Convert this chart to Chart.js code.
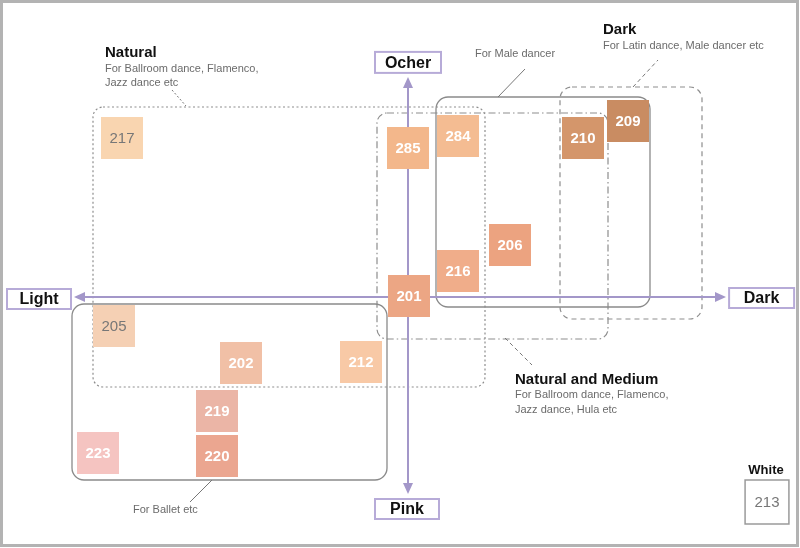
<!DOCTYPE html>
<html><head><meta charset="utf-8">
<script src="https://cdn.jsdelivr.net/npm/chart.js@4.4.1/dist/chart.umd.min.js"></script>
<style>html,body{margin:0;padding:0;background:#fff}#wrap{width:800px;height:548px}</style>
</head><body><div id="wrap"><canvas id="c" width="800" height="548"></canvas></div>
<script>
// ---- data ----
const shades = ['217','285','284','210','209','206','216','201','205','202','212','219','220','223'];
// horizontal: Light (-) ... Dark (+)
const tone = [-14.3, 0, 2.5, 8.75, 11.0, 5.1, 2.5, 0.05, -14.7, -8.35, -2.35, -9.55, -9.55, -15.5];
// vertical: Pink (-) ... Ocher (+)
const hue  = [7.95, 7.45, 8.05, 7.95, 8.8, 2.6, 1.3, 0.05, -1.45, -3.3, -3.25, -5.7, -7.95, -7.8];
const whiteShade = ['213'];
const whiteTone = [17.95];
const whiteHue = [-10.25];
const axisLabels = ['Light', 'Dark', 'Ocher', 'Pink'];

// ---- styles ----
const fills = ['#f9d5b0','#f3b78b','#f4bc92','#d4966b','#c98c62','#eca380','#f0ad8a','#eca684',
               '#f5d0b4','#f1c0a6','#f8c9a6','#ebb5a6','#eba690','#f5c4c1'];
const inks  = ['#777','#fff','#fff','#fff','#fff','#fff','#fff','#fff',
               '#777','#fff','#fff','#fff','#fff','#fff'];

// group regions (in map units)
const groups = [
  {x0:-15.75, x1:3.85, y0:-4.5, y1:9.5, dash:[2,2.5], w:1.2, c:'#8d8d8d', r:10},
  {x0:-1.55, x1:10.0, y0:-2.1, y1:9.2, dash:[7,3,1.5,3], w:1.2, c:'#8d8d8d', r:10},
  {x0:1.4, x1:12.1, y0:-0.5, y1:10.0, dash:[], w:1.3, c:'#8a8a8a', r:12},
  {x0:7.6, x1:14.7, y0:-1.1, y1:10.5, dash:[5,4], w:1.2, c:'#8d8d8d', r:12},
  {x0:-16.8, x1:-1.05, y0:-9.15, y1:-0.35, dash:[], w:1.3, c:'#8a8a8a', r:12}
];
const leaders = [
  {a:[-11.8,10.35], b:[-11.1,9.55], dash:[2,2]},
  {a:[4.85,-2.05], b:[6.2,-3.4], dash:[4,3]},
  {a:[4.5,10.0], b:[5.85,11.4], dash:[]},
  {a:[11.25,10.5], b:[12.5,11.85], dash:[4,3]},
  {a:[-9.8,-9.15], b:[-10.9,-10.25], dash:[]}
];
const notes = [
  {t:'Natural', x:-15.15, y:12.2, f:'bold 15px "Liberation Sans", Arial', c:'#111', al:'left'},
  {t:'For Ballroom dance, Flamenco,', x:-15.15, y:11.4, f:'11px "Liberation Sans", Arial', c:'#6b6b6b', al:'left'},
  {t:'Jazz dance etc', x:-15.15, y:10.7, f:'11px "Liberation Sans", Arial', c:'#6b6b6b', al:'left'},
  {t:'For Male dancer', x:3.35, y:12.15, f:'11px "Liberation Sans", Arial', c:'#6b6b6b', al:'left'},
  {t:'Dark', x:9.75, y:13.35, f:'bold 15px "Liberation Sans", Arial', c:'#111', al:'left'},
  {t:'For Latin dance, Male dancer etc', x:9.75, y:12.55, f:'11px "Liberation Sans", Arial', c:'#6b6b6b', al:'left'},
  {t:'Natural and Medium', x:5.35, y:-4.15, f:'bold 15px "Liberation Sans", Arial', c:'#111', al:'left'},
  {t:'For Ballroom dance, Flamenco,', x:5.35, y:-4.9, f:'11px "Liberation Sans", Arial', c:'#6b6b6b', al:'left'},
  {t:'Jazz dance, Hula etc', x:5.35, y:-5.65, f:'11px "Liberation Sans", Arial', c:'#6b6b6b', al:'left'},
  {t:'For Ballet etc', x:-13.75, y:-10.65, f:'11px "Liberation Sans", Arial', c:'#6b6b6b', al:'left'},
  {t:'White', x:17.9, y:-8.65, f:'bold 13px "Liberation Sans", Arial', c:'#111', al:'center'}
];
// axis label boxes centres
const axisBoxes = [
  {x:-18.45, y:-0.1, w:64, h:20},
  {x:17.68, y:-0.05, w:65, h:20},
  {x:0, y:11.73, w:66, h:21},
  {x:-0.05, y:-10.6, w:64, h:20}
];

function rr(ctx, x, y, w, h, r){
  ctx.beginPath();
  ctx.moveTo(x+r, y);
  ctx.lineTo(x+w-r, y); ctx.arcTo(x+w, y, x+w, y+r, r);
  ctx.lineTo(x+w, y+h-r); ctx.arcTo(x+w, y+h, x+w-r, y+h, r);
  ctx.lineTo(x+r, y+h); ctx.arcTo(x, y+h, x, y+h-r, r);
  ctx.lineTo(x, y+r); ctx.arcTo(x, y, x+r, y, r);
  ctx.closePath();
}

const mapPlugin = {
  id:'map',
  beforeDatasetsDraw(chart){
    const ctx = chart.ctx, X = chart.scales.x, Y = chart.scales.y;
    const px = v => X.getPixelForValue(v), py = v => Y.getPixelForValue(v);
    ctx.save();
    // frame
    ctx.strokeStyle = '#b3b3b3'; ctx.lineWidth = 3; ctx.setLineDash([]);
    ctx.strokeRect(1.5, 1.5, 796, 544);
    // groups
    groups.forEach(g=>{
      ctx.strokeStyle = g.c; ctx.lineWidth = g.w; ctx.setLineDash(g.dash);
      const x = px(g.x0), y = py(g.y1);
      rr(ctx, x, y, px(g.x1)-x, py(g.y0)-y, g.r);
      ctx.stroke();
    });
    leaders.forEach(l=>{
      ctx.strokeStyle = '#777'; ctx.lineWidth = 1; ctx.setLineDash(l.dash);
      ctx.beginPath(); ctx.moveTo(px(l.a[0]), py(l.a[1])); ctx.lineTo(px(l.b[0]), py(l.b[1])); ctx.stroke();
    });
    ctx.setLineDash([]);
    // axes
    const ac = '#a397c9';
    ctx.strokeStyle = ac; ctx.fillStyle = ac; ctx.lineWidth = 2;
    const xl = px(-16.7), xr = px(15.9), y0 = py(0), x0 = px(0), yt = py(11.0), yb = py(-9.85);
    ctx.beginPath(); ctx.moveTo(xl+8, y0); ctx.lineTo(xr-8, y0); ctx.stroke();
    ctx.beginPath(); ctx.moveTo(x0, yt+8); ctx.lineTo(x0, yb-8); ctx.stroke();
    const tri = (pts)=>{ctx.beginPath(); ctx.moveTo(pts[0],pts[1]); ctx.lineTo(pts[2],pts[3]); ctx.lineTo(pts[4],pts[5]); ctx.closePath(); ctx.fill();};
    tri([xl, y0, xl+11, y0-5, xl+11, y0+5]);
    tri([xr, y0, xr-11, y0-5, xr-11, y0+5]);
    tri([x0, yt, x0-5, yt+11, x0+5, yt+11]);
    tri([x0, yb, x0-5, yb-11, x0+5, yb-11]);
    // axis label boxes
    axisBoxes.forEach((b,i)=>{
      const cx = px(b.x), cy = py(b.y);
      ctx.fillStyle = '#fff'; ctx.fillRect(cx-b.w/2, cy-b.h/2, b.w, b.h);
      ctx.strokeStyle = '#b7abd8'; ctx.lineWidth = 2;
      ctx.strokeRect(cx-b.w/2, cy-b.h/2, b.w, b.h);
      ctx.fillStyle = '#111'; ctx.font = 'bold 16px "Liberation Sans", Arial';
      ctx.textAlign = 'center'; ctx.textBaseline = 'middle';
      ctx.fillText(axisLabels[i], cx, cy+1);
    });
    ctx.restore();
  },
  afterDatasetsDraw(chart){
    const ctx = chart.ctx, X = chart.scales.x, Y = chart.scales.y;
    const px = v => X.getPixelForValue(v), py = v => Y.getPixelForValue(v);
    ctx.save();
    ctx.textAlign = 'center'; ctx.textBaseline = 'middle';
    chart.getDatasetMeta(0).data.forEach((el,i)=>{
      ctx.fillStyle = inks[i];
      ctx.font = inks[i] === '#fff' ? 'bold 15px "Liberation Sans", Arial' : '15px "Liberation Sans", Arial';
      ctx.fillText(shades[i], el.x, el.y+1);
    });
    chart.getDatasetMeta(1).data.forEach((el,i)=>{
      ctx.fillStyle = '#777'; ctx.font = '15px "Liberation Sans", Arial';
      ctx.fillText(whiteShade[i], el.x, el.y+1);
    });
    notes.forEach(n=>{
      ctx.font = n.f; ctx.fillStyle = n.c; ctx.textAlign = n.al;
      ctx.fillText(n.t, px(n.x), py(n.y));
    });
    ctx.restore();
  }
};

new Chart(document.getElementById('c'), {
  type:'scatter',
  data:{datasets:[
    {label:'Shades', data: shades.map((s,i)=>({x:tone[i], y:hue[i]})),
     pointStyle:'rect', pointRadius:29.7, pointHoverRadius:29.7,
     backgroundColor:fills, borderWidth:0, clip:false},
    {label:'White', data: whiteShade.map((s,i)=>({x:whiteTone[i], y:whiteHue[i]})),
     pointStyle:'rect', pointRadius:31, pointHoverRadius:31,
     backgroundColor:'#fff', borderColor:'#9a9a9a', borderWidth:1.5, clip:false}
  ]},
  options:{
    responsive:false, animation:false, events:[],
    layout:{padding:0, autoPadding:false},
    plugins:{legend:{display:false}, tooltip:{enabled:false}},
    scales:{
      x:{type:'linear', min:-20.4, max:19.6, display:false},
      y:{type:'linear', min:-12.55, max:14.85, display:false}
    }
  },
  plugins:[mapPlugin]
});
</script>
</body></html>
